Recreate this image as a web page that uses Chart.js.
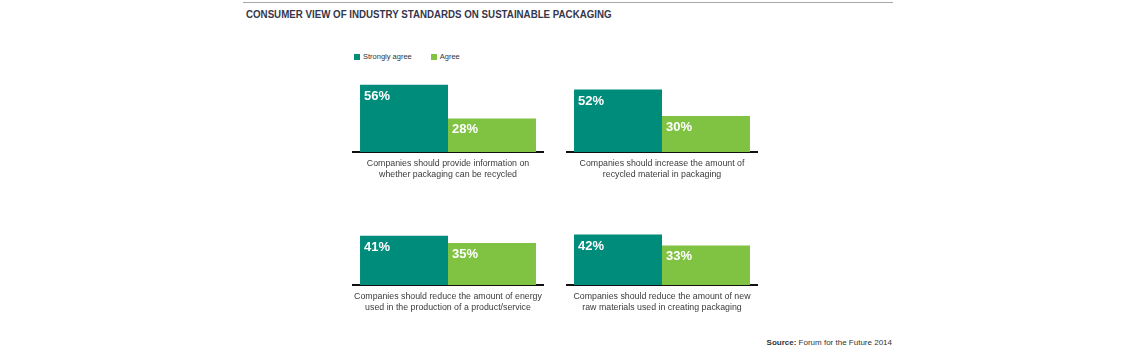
<!DOCTYPE html>
<html>
<head>
<meta charset="utf-8">
<script src="https://cdn.jsdelivr.net/npm/chart.js@4.4.0/dist/chart.umd.min.js"></script>
<style>
  body { margin: 0; background: #fff; width: 1140px; height: 350px; position: relative; overflow: hidden;
         font-family: "Liberation Sans", Arial, sans-serif; }
  #rule { position: absolute; left: 243px; top: 2px; width: 650px; border-top: 1.5px solid #a8a8a8; }
  #title { position: absolute; left: 246px; top: 9px; font-weight: bold; font-size: 10px; color: #35364a;
           white-space: nowrap; transform-origin: 0 0; }
  #legend { position: absolute; left: 354px; top: 52px; font-size: 7.5px; color: #333; white-space: nowrap; }
  #legend span.box { display: inline-block; width: 6px; height: 6px; vertical-align: -0.5px; margin-right: 3px; }
  #legend span.item { margin-right: 19px; }
  #source { position: absolute; right: 248px; top: 338px; font-size: 8px; color: #333; white-space: nowrap; }
  canvas { position: absolute; }
</style>
</head>
<body>
<div id="rule"></div>
<div id="title">CONSUMER VIEW OF INDUSTRY STANDARDS ON SUSTAINABLE PACKAGING</div>
<div id="legend"></div>
<div id="source"><b>Source:</b> Forum for the Future 2014</div>
<canvas id="p0" width="230" height="116" style="left:333px;top:70px"></canvas>
<canvas id="p1" width="230" height="116" style="left:547px;top:70px"></canvas>
<canvas id="p2" width="230" height="116" style="left:333px;top:203px"></canvas>
<canvas id="p3" width="230" height="116" style="left:547px;top:203px"></canvas>
<script>
const captions = [
  ['Companies should provide information on', 'whether packaging can be recycled'],
  ['Companies should increase the amount of', 'recycled material in packaging'],
  ['Companies should reduce the amount of energy', 'used in the production of a product/service'],
  ['Companies should reduce the amount of new', 'raw materials used in creating packaging']
]
const seriesNames = ['Strongly agree', 'Agree']
const stronglyAgree = [56, 52, 41, 42]
const agree = [28, 30, 35, 33]
const seriesColors = ['#008c7b', '#80c242']

// fit title width to the reference
const title = document.getElementById('title')
title.style.transform = 'scaleX(' + (366 / title.offsetWidth) + ')'

// legend
document.getElementById('legend').innerHTML = seriesNames
  .map((n, i) => `<span class="item"><span class="box" style="background:${seriesColors[i]}"></span>${n}</span>`)
  .join('')

const valueLabels = {
  id: 'valueLabels',
  afterDatasetsDraw(chart) {
    const ctx = chart.ctx
    ctx.save()
    ctx.fillStyle = '#fff'
    ctx.font = 'bold 13px "Liberation Sans", Arial, sans-serif'
    ctx.textBaseline = 'top'
    ctx.textAlign = 'left'
    chart.data.datasets.forEach((ds, di) => {
      chart.getDatasetMeta(di).data.forEach((bar, i) => {
        ctx.fillText(ds.data[i] + '%', bar.x - bar.width / 2 + 4, bar.y + 5)
      })
    })
    ctx.restore()
  }
}

captions.forEach((cap, i) => {
  new Chart(document.getElementById('p' + i).getContext('2d'), {
    type: 'bar',
    data: {
      labels: [cap],
      datasets: [
        { label: seriesNames[0], data: [stronglyAgree[i]], backgroundColor: seriesColors[0] },
        { label: seriesNames[1], data: [agree[i]], backgroundColor: seriesColors[1] }
      ]
    },
    options: {
      responsive: false,
      animation: false,
      layout: { padding: { left: 20, right: 20, top: 10, bottom: 0 } },
      datasets: { bar: { categoryPercentage: 0.926, barPercentage: 1 } },
      plugins: { legend: { display: false }, tooltip: { enabled: false } },
      scales: {
        x: {
          grid: { display: false, drawTicks: false },
          border: { color: '#111', width: 2 },
          ticks: {
            color: '#3a3a3a',
            maxRotation: 0,
            autoSkip: false,
            padding: 6,
            font: { size: 8.8, family: '"Liberation Sans", Arial, sans-serif', lineHeight: '11px' }
          }
        },
        y: { display: false, min: 0, max: 60 }
      }
    },
    plugins: [valueLabels]
  })
})
</script>
</body>
</html>
